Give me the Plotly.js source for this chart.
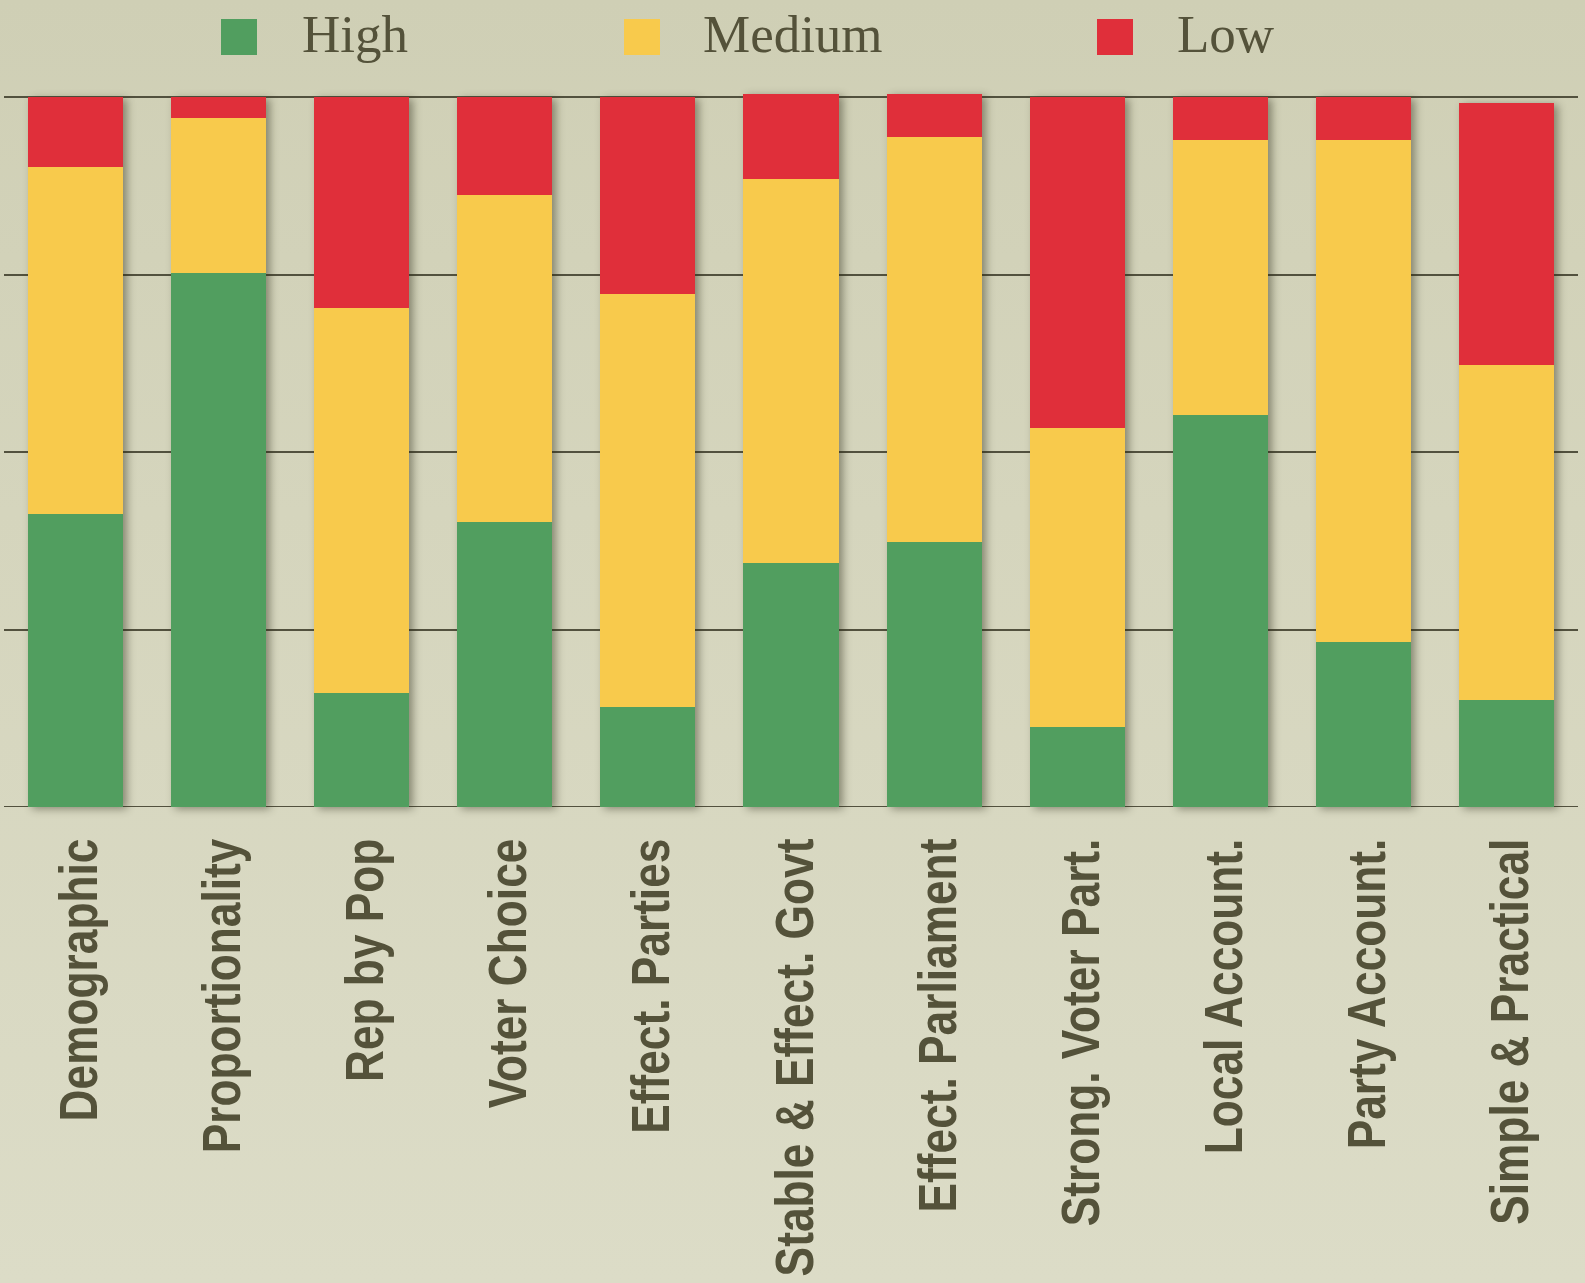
<!DOCTYPE html>
<html>
<head>
<meta charset="utf-8">
<script src="https://cdn.plot.ly/plotly-3.0.1.min.js"></script>
<style>
  html, body { margin: 0; padding: 0; }
  body {
    width: 1585px; height: 1283px; overflow: hidden;
    background: linear-gradient(180deg, #cfcfb5 0%, #d5d5bd 40%, #dcdcc7 100%);
  }
  #chart { width: 1585px; height: 1283px; }
  #chart .barlayer { filter: drop-shadow(4px 2px 4px rgba(40,40,20,0.45)); }
</style>
</head>
<body>
<div id="chart"></div>
<script>
// ---- data ----
const categories = ["Demographic", "Proportionality", "Rep by Pop", "Voter Choice", "Effect. Parties",
  "Stable & Effect. Govt", "Effect. Parliament", "Strong. Voter Part.", "Local Account.",
  "Party Account.", "Simple & Practical"];
const high   = [41.2, 75.2, 16.1, 40.2, 14.1, 34.4, 37.3, 11.2, 55.2, 23.2, 15.1];
const medium = [49, 21.8, 54.2, 46, 58.2, 54, 57.1, 42.2, 38.8, 70.8, 47.1];
const low    = [9.8, 3.0, 29.7, 13.8, 27.7, 12.0, 6.0, 46.6, 6.0, 6.0, 36.9];
const seriesNames = ["High", "Medium", "Low"];
const seriesColors = ["#519e5f", "#f8ca4c", "#e02f3a"];
const yTicks = [0, 25, 50, 75, 100];

const values = [high, medium, low];
const traces = seriesNames.map((name, i) => ({
  type: "bar",
  name: name,
  x: categories,
  y: values[i],
  marker: { color: seriesColors[i], line: { width: 0 } },
  cliponaxis: false,
  hoverinfo: "x+y+name",
  showlegend: false
}));

// plot area geometry (pixels)
const W = 1585, H = 1283;
const M = { l: 4, r: 7, t: 93, b: 476 };
const plotH = H - M.t - M.b;
const plotW = W - M.l - M.r;
const pxPerUnit = 7.1;               // 100 units span 710 px
const yMax = plotH / pxPerUnit;       // a little headroom above 100
const px2x = px => (px - M.l) / plotW;
const py2y = py => (H - M.b - py) / plotH;

// legend drawn as shapes + annotations (large squares)
const legendSquareX = [221, 624, 1097];
const legendTextX = [300, 701, 1175];
const sq = 36, sqTop = 19;
const textColor = "#54523a";
const shapes = [], annotations = [];
seriesNames.forEach((name, i) => {
  shapes.push({
    type: "rect", xref: "paper", yref: "paper",
    x0: px2x(legendSquareX[i]), x1: px2x(legendSquareX[i] + sq),
    y0: py2y(sqTop + sq), y1: py2y(sqTop),
    fillcolor: seriesColors[i], line: { width: 0 }
  });
  annotations.push({
    xref: "paper", yref: "paper",
    x: px2x(legendTextX[i]), y: py2y(sqTop + sq / 2 - 3),
    xanchor: "left", yanchor: "middle",
    text: name, showarrow: false,
    font: { family: "Liberation Serif, 'DejaVu Serif', serif", size: 53, color: textColor }
  });
});
// baseline gridline (plotly omits the one at the range edge)
shapes.push({
  type: "line", xref: "paper", yref: "y", layer: "below",
  x0: 0, x1: 1, y0: yTicks[0], y1: yTicks[0],
  line: { color: "#52513e", width: 2 }
});

const layout = {
  width: W, height: H,
  margin: M,
  barmode: "stack",
  bargap: 0.336,
  paper_bgcolor: "rgba(0,0,0,0)",
  plot_bgcolor: "rgba(0,0,0,0)",
  showlegend: false,
  xaxis: {
    type: "category",
    tickangle: -90,
    ticks: "outside", ticklen: 9, tickcolor: "rgba(0,0,0,0)",
    showgrid: false, zeroline: false, showline: false,
    tickfont: { family: "'Liberation Sans', Arial, sans-serif",
                size: 54, color: textColor, weight: "bold" }
  },
  yaxis: {
    range: [0, yMax],
    tickvals: yTicks,
    showticklabels: false,
    showgrid: true, gridcolor: "#52513e", gridwidth: 2,
    zeroline: false, showline: false, ticks: ""
  },
  shapes: shapes,
  annotations: annotations
};

Plotly.newPlot("chart", traces, layout, { displayModeBar: false, staticPlot: true }).then(gd => {
  // condense the category labels horizontally (along the text direction)
  gd.querySelectorAll(".xtick text").forEach(t => {
    const x = parseFloat(t.getAttribute("x")) || 0;
    const y = parseFloat(t.getAttribute("y")) || 0;
    const tr = t.getAttribute("transform") || "";
    t.setAttribute("transform",
      "translate(4,0) " + tr + ` translate(${x},${y}) scale(0.82,1) translate(${-x},${-y})`);
  });
});
</script>
</body>
</html>
